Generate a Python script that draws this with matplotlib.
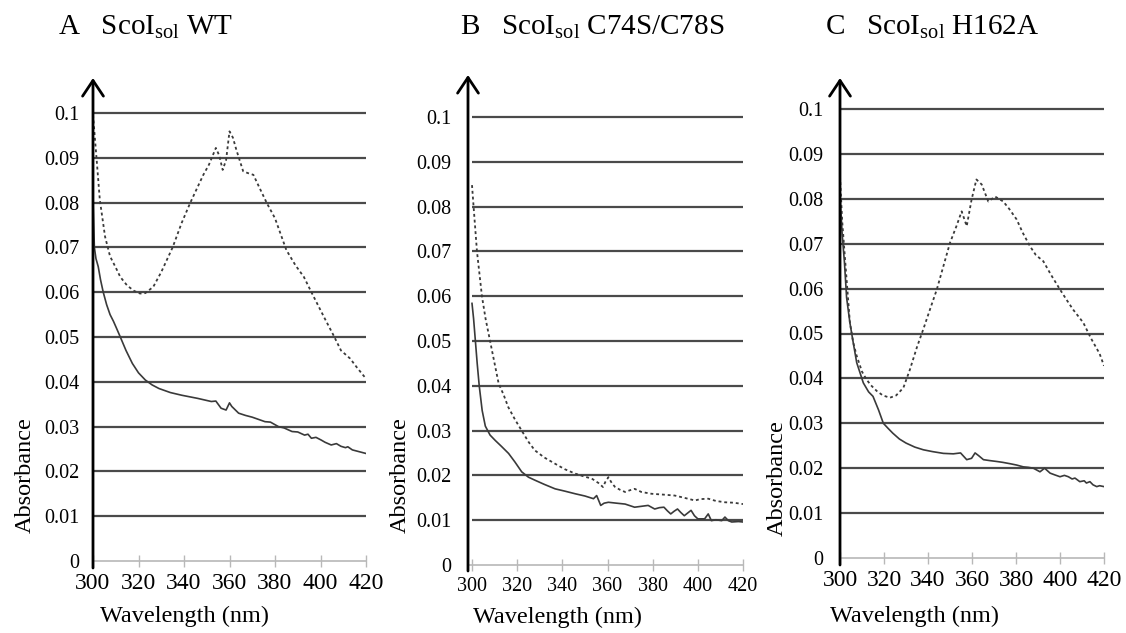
import matplotlib
matplotlib.use("Agg")
import matplotlib.pyplot as plt

plt.rcParams['font.family'] = ['Liberation Serif', 'DejaVu Serif']
plt.rcParams['mathtext.fontset'] = 'custom'
plt.rcParams['mathtext.rm'] = 'Liberation Serif'
plt.rcParams['mathtext.it'] = 'Liberation Serif:italic'

# ---- data ----
titles = [r'A   ScoI$_{\mathrm{sol}}$ WT',
          r'B   ScoI$_{\mathrm{sol}}$ C74S/C78S',
          r'C   ScoI$_{\mathrm{sol}}$ H162A']

y_ticks = [0, 0.01, 0.02, 0.03, 0.04, 0.05, 0.06, 0.07, 0.08, 0.09, 0.1]
y_labels = ['0', '0.01', '0.02', '0.03', '0.04', '0.05', '0.06', '0.07', '0.08', '0.09', '0.1']
x_ticks = [300, 320, 340, 360, 380, 400, 420]

# panel A
wl_a_dot = [300, 301.6, 303, 305.3, 307.5, 310, 312, 315, 318, 320.7, 323, 326.5, 330, 335, 339,
            342.7, 346, 348.5, 351, 354, 355.5, 357, 358.5, 360, 361.5, 363, 366, 368, 370.5,
            373, 376.4, 380, 385, 389, 392.7, 396, 398.5, 402, 405.7, 409, 413, 416, 420]
abs_a_dot = [0.0996, 0.0896, 0.0806, 0.0724, 0.068, 0.0655, 0.0634, 0.0615, 0.0603, 0.0597,
             0.0598, 0.0612, 0.0645, 0.070, 0.0755, 0.0799, 0.0835, 0.0862, 0.0885, 0.0922,
             0.0905, 0.0873, 0.0895, 0.0959, 0.0945, 0.0918, 0.087, 0.0866, 0.0862, 0.0835,
             0.0799, 0.0765, 0.0694, 0.066, 0.0634, 0.060, 0.0575, 0.054, 0.0504, 0.047,
             0.0452, 0.0432, 0.0407]
wl_a_sol = [300, 300.6, 301.3, 302.3, 303.3, 304.5, 306, 307.5, 309, 310.3, 312, 314.5, 317.3,
            320, 323, 326, 329, 334, 339, 346, 352, 354, 356.3, 358.5, 360, 361, 364, 367, 370,
            375.6, 378, 381.5, 384, 387.5, 390, 393, 394.5, 396, 398, 400.3, 402, 404.7, 407,
            409, 411, 412, 414, 417, 420]
abs_a_sol = [0.0806, 0.070, 0.0675, 0.0657, 0.0628, 0.060, 0.0572, 0.055, 0.0535, 0.052,
             0.050, 0.047, 0.0441, 0.042, 0.0404, 0.0393, 0.0385, 0.0376, 0.037, 0.0363,
             0.0356, 0.0357, 0.0341, 0.0337, 0.0353, 0.0345, 0.033, 0.0325, 0.0321, 0.0311,
             0.031, 0.030, 0.0297, 0.0289, 0.0288, 0.0281, 0.0283, 0.0274, 0.0276, 0.027,
             0.0265, 0.0259, 0.0262, 0.0256, 0.0253, 0.0255, 0.0248, 0.0244, 0.024]

# panel B
wl_b_dot = [300, 300.7, 302.2, 304.4, 306, 308, 310, 311.8, 314, 316, 319, 322, 325, 327.8, 332,
            336.8, 341, 345.7, 350, 353, 356, 358, 359, 360.4, 362, 363.4, 365.5, 367.8, 370,
            372, 375, 379.5, 385, 389.8, 394, 398.7, 401, 404.6, 408, 412, 416, 420]
abs_b_dot = [0.0848, 0.080, 0.070, 0.060, 0.055, 0.050, 0.045, 0.0405, 0.038, 0.0353,
             0.0325, 0.030, 0.0275, 0.0256, 0.024, 0.0226, 0.0214, 0.0204, 0.0197, 0.0193,
             0.0183, 0.0174, 0.0185, 0.0196, 0.0182, 0.0174, 0.0168, 0.0163, 0.0167, 0.017,
             0.0163, 0.0159, 0.0157, 0.0155, 0.015, 0.0144, 0.0147, 0.0148, 0.0143, 0.014,
             0.0139, 0.0136]
wl_b_sol = [300, 300.7, 301.5, 302.3, 303.2, 304.5, 305.9, 308, 310.3, 313, 316.2, 319, 322,
            325, 328, 332, 336.8, 341, 345.7, 350, 353.8, 355.2, 357, 358.5, 360.4, 364, 367.8,
            372, 375, 378, 380.9, 383, 385, 386.5, 388, 389.5, 391, 392.5, 394, 395.5, 397,
            398.5, 400, 403, 404.6, 406, 408, 410.6, 412, 413.5, 415, 418, 420]
abs_b_sol = [0.0584, 0.055, 0.050, 0.045, 0.040, 0.0345, 0.031, 0.029, 0.0278, 0.0265,
             0.0249, 0.023, 0.0208, 0.0196, 0.0189, 0.018, 0.017, 0.0165, 0.0159, 0.0154,
             0.0148, 0.0155, 0.0133, 0.0138, 0.014, 0.0138, 0.0136, 0.0129, 0.0131, 0.0133,
             0.0125, 0.0128, 0.0129, 0.0121, 0.0114, 0.012, 0.0125, 0.0117, 0.011, 0.0116,
             0.0122, 0.011, 0.0103, 0.0103, 0.0114, 0.0099, 0.0101, 0.0099, 0.0107, 0.0099,
             0.0096, 0.0097, 0.0096]

# panel C
wl_c_dot = [300, 301, 302.3, 304.5, 306, 307.6, 310, 312, 314, 316.7, 319.5, 322.7, 325.5,
            328.8, 331.8, 335, 337.9, 341, 344, 347, 350, 353, 355.3, 357.6, 359.8, 362, 364.4,
            367.4, 370.5, 374.2, 377, 380.3, 383, 386.4, 389, 392.4, 396, 400, 403, 406, 410.6,
            414, 418, 420]
abs_c_dot = [0.085, 0.075, 0.0665, 0.0524, 0.048, 0.045, 0.0415, 0.0398, 0.0385, 0.0372,
             0.0362, 0.0357, 0.0362, 0.0379, 0.042, 0.047, 0.051, 0.0555, 0.0598, 0.065,
             0.0702, 0.074, 0.0772, 0.0739, 0.0798, 0.0843, 0.0832, 0.0794, 0.0805, 0.0794,
             0.0777, 0.0754, 0.0725, 0.0694, 0.0675, 0.0661, 0.063, 0.0598, 0.0575, 0.0553,
             0.0524, 0.049, 0.0455, 0.0428]
wl_c_sol = [300, 301, 302, 303, 304.5, 306, 307.6, 310.6, 313, 315, 317.5, 319.7, 322, 324,
            327, 330, 334, 337.9, 342, 347, 351.5, 354.8, 357.6, 359.8, 361.4, 363, 365.2, 368,
            371.2, 374, 377.3, 380.3, 383.3, 385.5, 387.9, 390.9, 393, 395.5, 397.7, 400, 402,
            403.8, 405.5, 406.8, 409, 411, 412, 413.6, 415, 416.7, 418, 420]
abs_c_sol = [0.081, 0.072, 0.066, 0.058, 0.0524, 0.048, 0.0435, 0.039, 0.037, 0.036, 0.033,
             0.030, 0.0288, 0.0278, 0.0265, 0.0256, 0.0247, 0.0241, 0.0237, 0.0233, 0.0232,
             0.0234, 0.0219, 0.0222, 0.0234, 0.0228, 0.0219, 0.0217, 0.0215, 0.0213, 0.021,
             0.0207, 0.0203, 0.0202, 0.02, 0.0192, 0.020, 0.0189, 0.0185, 0.0181, 0.0184,
             0.0181, 0.0176, 0.0178, 0.017, 0.0172, 0.0167, 0.017, 0.0163, 0.0159, 0.0161,
             0.0159]

panels = [
    (wl_a_dot, abs_a_dot, wl_a_sol, abs_a_sol),
    (wl_b_dot, abs_b_dot, wl_b_sol, abs_b_sol),
    (wl_c_dot, abs_c_dot, wl_c_sol, abs_c_sol),
]

# ---- layout in pixels: axis x, x of 300, x of 420, y of 0, y of 0.1, arrow top, axis bottom ----
W, H = 1126, 633
geom = [
    (93, 93, 366, 561, 113, 78, 568),
    (468, 472, 743, 565, 117, 75, 571),
    (840, 840, 1104, 558, 109, 78, 565),
]
title_pos = [(58, 35), (460, 35), (825, 35)]
xlabel_pos = [(100, 616), (473, 617), (830, 616)]
ylabel_pos = [(25, 475), (400, 475), (777, 478)]
xtick_size = [17, 14.5, 17]
ytick_pad = [10, 12, 12]

fig = plt.figure(figsize=(W / 100, H / 100), dpi=100)

for i, (wd, ad, ws, as_) in enumerate(panels):
    x_ax, x300, x420, y0, y10, ytop, ybot = geom[i]
    ppn = (x420 - x300) / 120.0
    ppy = (y0 - y10) / 0.1
    xl = 300 - (x300 - x_ax) / ppn
    ax = fig.add_axes([x_ax / W, 1 - ybot / H, (x420 - x_ax) / W, (ybot - ytop) / H])
    ax.set_xlim(xl, 420)
    ax.set_ylim(-(ybot - y0) / ppy, (y0 - ytop) / ppy)
    ax.patch.set_alpha(0)

    # horizontal grid lines
    ax.hlines(y_ticks[1:], 300 if i == 1 else xl, 420, color='#4a4a4a', lw=1.6, zorder=1)

    ax.plot(wd, ad, color='#3a3a3a', lw=1.3, linestyle=(0, (1.6, 1.6)), zorder=3)
    ax.plot(ws, as_, color='#3a3a3a', lw=1.2, zorder=3)

    for s in ['top', 'right', 'left']:
        ax.spines[s].set_visible(False)
    ax.spines['bottom'].set_position(('data', 0))
    ax.spines['bottom'].set_color('#b8b8b8')
    ax.spines['bottom'].set_linewidth(1.2)

    ax.set_xticks(x_ticks)
    ax.set_xticklabels([str(t) for t in x_ticks], fontsize=xtick_size[i])
    ax.tick_params(axis='x', direction='inout', length=9, width=1, color='#b8b8b8', pad=4)
    ax.set_yticks(y_ticks)
    ax.set_yticklabels(y_labels, fontsize=14.5)
    ax.tick_params(axis='y', length=0, pad=ytick_pad[i])

    # vertical axis with arrow head
    ax.annotate('', xy=(xl, (y0 - ytop) / ppy), xytext=(xl, -(ybot - y0) / ppy),
                arrowprops=dict(arrowstyle='->,head_length=0.45,head_width=0.3',
                                lw=2, color='black', shrinkA=0, shrinkB=0,
                                mutation_scale=25),
                annotation_clip=False, zorder=4)

    tx, ty = title_pos[i]
    fig.text(tx / W, 1 - ty / H, titles[i], fontsize=21, ha='left', va='baseline')
    lx, ly = xlabel_pos[i]
    fig.text(lx / W, 1 - ly / H, 'Wavelength (nm)', fontsize=17.5, ha='left', va='center')
    ax_x, ax_y = ylabel_pos[i]
    fig.text(ax_x / W, 1 - ax_y / H, 'Absorbance', fontsize=17.5, rotation=90,
             ha='center', va='center')

fig.savefig('out.png', dpi=100)
